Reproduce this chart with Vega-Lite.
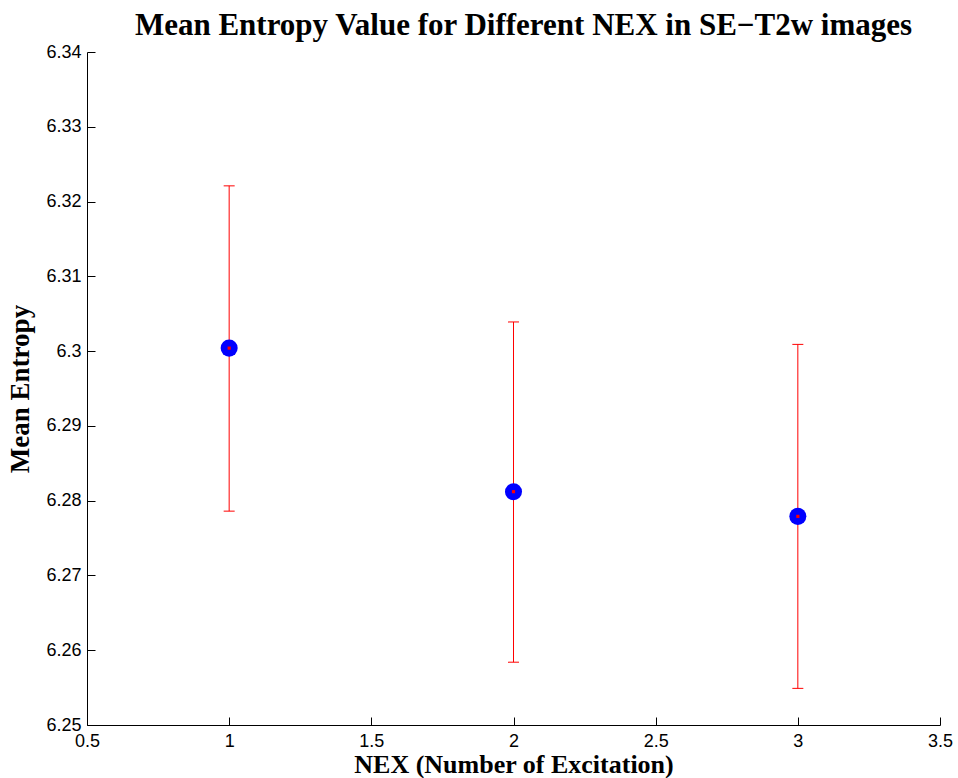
{
  "$schema": "https://vega.github.io/schema/vega-lite/v6.json",
  "width": 853,
  "height": 673,
  "autosize": {"type": "none"},
  "padding": {"left": 87, "top": 52, "right": 18, "bottom": 53},
  "background": "white",
  "config": {"view": {"stroke": null}},
  "title": {
    "text": "Mean Entropy Value for Different NEX in SE−T2w images",
    "font": "Liberation Serif",
    "fontSize": 31,
    "fontWeight": "bold",
    "color": "black",
    "anchor": "middle",
    "offset": 1,
    "dx": 10
  },
  "data": {
    "values": [
      {"nex": 1, "mean": 6.3004, "lo": 6.2786, "hi": 6.3221},
      {"nex": 2, "mean": 6.2812, "lo": 6.2584, "hi": 6.3039},
      {"nex": 3, "mean": 6.2779, "lo": 6.2549, "hi": 6.3009}
    ]
  },
  "encoding": {
    "x": {
      "field": "nex",
      "type": "quantitative",
      "scale": {"domain": [0.5, 3.5], "nice": false, "zero": false},
      "axis": {
        "title": "NEX (Number of Excitation)",
        "values": [0.5, 1, 1.5, 2, 2.5, 3, 3.5],
        "format": "~g",
        "grid": false,
        "domainColor": "black",
        "tickColor": "black",
        "tickSize": -8,
        "labelPadding": 15,
        "labelFont": "Liberation Sans",
        "labelFontSize": 18,
        "labelColor": "black",
        "labelFlush": false,
        "labelOverlap": false,
        "titleFont": "Liberation Serif",
        "titleFontSize": 26,
        "titleFontWeight": "bold",
        "titleColor": "black",
        "titlePadding": 1
      }
    }
  },
  "layer": [
    {
      "mark": {"type": "rule", "color": "#ff0000", "strokeWidth": 1},
      "encoding": {
        "y": {
          "field": "lo",
          "type": "quantitative",
          "scale": {"domain": [6.25, 6.34], "nice": false, "zero": false},
          "axis": {
            "title": "Mean Entropy",
            "values": [6.25, 6.26, 6.27, 6.28, 6.29, 6.3, 6.31, 6.32, 6.33, 6.34],
            "format": "~g",
            "grid": false,
            "domainColor": "black",
            "tickColor": "black",
            "tickSize": -8,
            "labelPadding": 14,
            "labelFont": "Liberation Sans",
            "labelFontSize": 18,
            "labelColor": "black",
            "labelFlush": false,
            "labelOverlap": false,
            "titleFont": "Liberation Serif",
            "titleFontSize": 27,
            "titleFontWeight": "bold",
            "titleColor": "black",
            "titlePadding": 11
          }
        },
        "y2": {"field": "hi"}
      }
    },
    {
      "mark": {"type": "tick", "orient": "horizontal", "color": "#ff0000", "size": 11, "thickness": 1, "opacity": 1},
      "encoding": {"y": {"field": "lo", "type": "quantitative"}}
    },
    {
      "mark": {"type": "tick", "orient": "horizontal", "color": "#ff0000", "size": 11, "thickness": 1, "opacity": 1},
      "encoding": {"y": {"field": "hi", "type": "quantitative"}}
    },
    {
      "mark": {"type": "point", "shape": "circle", "filled": true, "color": "#0000ff", "size": 290, "opacity": 1},
      "encoding": {"y": {"field": "mean", "type": "quantitative"}}
    },
    {
      "mark": {"type": "point", "shape": "square", "filled": true, "color": "#ff0000", "size": 10, "opacity": 1},
      "encoding": {"y": {"field": "mean", "type": "quantitative"}}
    }
  ]
}
